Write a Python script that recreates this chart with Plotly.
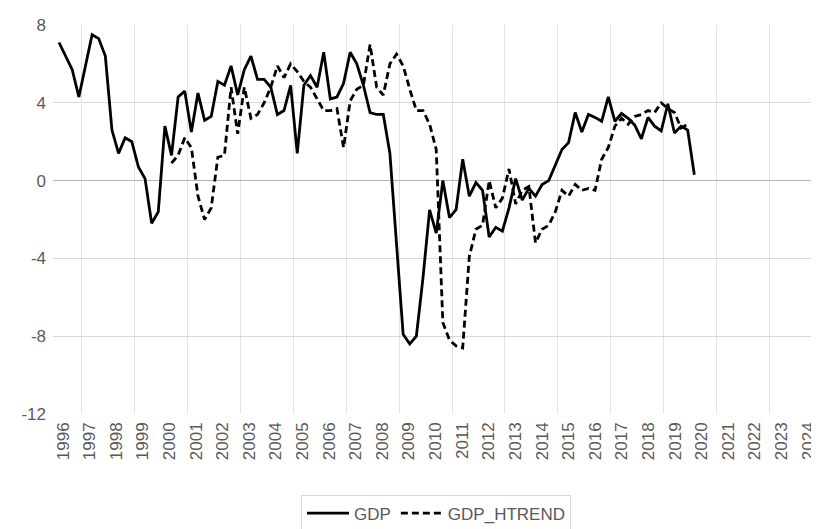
import plotly.graph_objects as go

# Quarterly data, 1996Q1 .. 2020Q1
start_year = 1996
gdp = [7.1, 6.4, 5.7, 4.3, 5.9, 7.5, 7.3, 6.4,
       2.6, 1.4, 2.2, 2.0, 0.7, 0.1, -2.2, -1.6,
       2.8, 1.3, 4.3, 4.6, 2.5, 4.5, 3.1, 3.3,
       5.1, 4.9, 5.9, 4.4, 5.7, 6.4, 5.2, 5.2,
       4.8, 3.4, 3.6, 4.9, 1.4, 4.9, 5.4, 4.8,
       6.6, 4.2, 4.3, 5.0, 6.6, 6.0, 4.9, 3.5,
       3.4, 3.4, 1.4, -3.3, -7.9, -8.4, -8.0, -5.0,
       -1.5, -2.7, 0.0, -1.9, -1.5, 1.1, -0.8, -0.1,
       -0.5, -2.9, -2.4, -2.6, -1.4, 0.1, -1.0, -0.4,
       -0.8, -0.2, 0.0, 0.8, 1.6, 1.95, 3.5, 2.5,
       3.4, 3.25, 3.05, 4.3, 3.05, 3.45, 3.2, 2.85,
       2.15, 3.25, 2.8, 2.55, 3.95, 2.45, 2.8, 2.6,
       0.3]

htrend = [None] * 17 + [
       0.9, 1.3, 2.2, 1.7, -0.8, -2.0, -1.4,
       1.2, 1.3, 4.8, 2.4, 4.8, 3.2, 3.4, 4.0,
       4.8, 5.9, 5.3, 6.0, 5.6, 5.1, 4.8, 4.2,
       3.6, 3.6, 3.7, 1.7, 4.1, 4.7, 4.9, 7.0,
       4.8, 4.4, 6.0, 6.5, 5.9, 4.7, 3.6, 3.6,
       2.9, 1.6, -7.3, -8.2, -8.5, -8.6, -3.9, -2.5,
       -2.3, 0.0, -1.4, -0.9, 0.6, -1.2, -0.5, -0.3,
       -3.2, -2.5, -2.3, -1.6, -0.5, -0.8, -0.2, -0.5,
       -0.4, -0.5, 1.1, 1.7, 2.8, 3.2, 2.9, 3.3,
       3.4, 3.6, 3.5, 4.0, 3.7, 3.5, 2.7, 2.9]

year_labels = [str(y) for y in range(1996, 2025)]
y_ticks = [8, 4, 0, -4, -8, -12]

x = [start_year + 0.25 * i for i in range(len(gdp))]

font_family = "Liberation Sans, Arial, sans-serif"
text_color = "#595959"

fig = go.Figure()
fig.add_trace(go.Scatter(x=x, y=gdp, mode="lines", name="GDP",
                         line=dict(color="#000000", width=2.8)))
fig.add_trace(go.Scatter(x=x, y=htrend, mode="lines", name="GDP_HTREND",
                         line=dict(color="#000000", width=2.8, dash="7px,4px")))

tick_pos = [start_year + 0.151 + 1.00529 * k for k in range(len(year_labels))]
grid_pos = [start_year + 0.847 + 2.0 * k for k in range(14)]

# the page body adds an 8px offset, so the figure is sized to fill the window
fig.update_layout(
    template="none",
    width=811, height=521,
    margin=dict(l=45, r=0, t=17, b=115, autoexpand=False),
    paper_bgcolor="white", plot_bgcolor="white",
    font=dict(family=font_family, size=17, color=text_color),
    showlegend=True,
    legend=dict(orientation="h", x=0.5, xanchor="center",
                yref="container", y=0.066, yanchor="top",
                bordercolor="#d9d9d9", borderwidth=1, bgcolor="white",
                itemwidth=42,
                font=dict(size=17, color=text_color)),
    xaxis=dict(range=[1995.773, 2024.71], tickmode="array", tickvals=tick_pos,
               ticktext=year_labels, tickangle=-90, showgrid=False, zeroline=False,
               showline=False, ticks="", ticklabelstandoff=4, automargin=False,
               minor=dict(tickmode="array", tickvals=grid_pos, showgrid=True,
                          gridcolor="#e3e3e3", gridwidth=1, ticks="")),
    yaxis=dict(range=[-12, 8], tickmode="array", tickvals=y_ticks,
               ticktext=[str(v) for v in y_ticks], showgrid=False,
               zeroline=True, zerolinecolor="#b3b3b3", zerolinewidth=1.3,
               showline=False, ticks="", ticklabelstandoff=6, automargin=False,
               minor=dict(tickmode="array", tickvals=[4, -4, -8], showgrid=True,
                          gridcolor="#d9d9d9", gridwidth=1, ticks="")),
)

fig.write_html("out.html")
